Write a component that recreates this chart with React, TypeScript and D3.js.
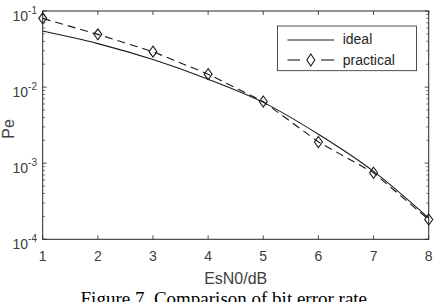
import React from "react";
import { scaleLinear, scaleLog, line, curveMonotoneX, curveLinear } from "d3";

// values
const esn0 = [1, 2, 3, 4, 5, 6, 7, 8];
const ideal = [0.0546, 0.0373, 0.023, 0.0127, 0.0063, 0.0024, 0.00078, 0.00019];
const practical = [0.08, 0.0493, 0.0292, 0.0148, 0.00646, 0.0019, 0.00075, 0.000182];
const xTicks = [1, 2, 3, 4, 5, 6, 7, 8];
const yExponents = [-1, -2, -3, -4];

const W = 436;
const H = 302;
const left = 42.7, right = 428.7, top = 11, bottom = 239.3;

export default function App() {
  const x = scaleLinear().domain([1, 8]).range([left, right]);
  const y = scaleLog().domain([1e-4, 1e-1]).range([bottom, top]);

  const idealLine = line<number>()
    .x((_, i) => x(esn0[i]))
    .y((d) => y(d))
    .curve(curveMonotoneX);
  const practicalLine = line<number>()
    .x((_, i) => x(esn0[i]))
    .y((d) => y(d))
    .curve(curveLinear);

  // minor log ticks 2..9 x 10^k
  const minor: number[] = [];
  for (let k = -4; k <= -2; k++) {
    for (let m = 2; m <= 9; m++) minor.push(m * Math.pow(10, k));
  }

  const diamond = (cx: number, cy: number, hw = 4, hh = 5.5) =>
    `M${cx},${cy - hh}L${cx + hw},${cy}L${cx},${cy + hh}L${cx - hw},${cy}Z`;

  const axisColor = "#262626";
  const textColor = "#404040";
  const sans = "'Liberation Sans', Arial, Helvetica, sans-serif";

  return (
    <div style={{ position: "fixed", left: 0, top: 0 }}>
      <svg width={W} height={H} style={{ display: "block", background: "#fff" }}>
        <rect x={0} y={0} width={W} height={H} fill="#fff" />

        {/* minor y ticks on both sides */}
        {minor.map((v, i) => (
          <g key={"m" + i} stroke={axisColor} strokeWidth={0.6}>
            <line x1={left} x2={left + 2.5} y1={y(v)} y2={y(v)} />
            <line x1={right} x2={right - 2.5} y1={y(v)} y2={y(v)} />
          </g>
        ))}
        {/* major y ticks */}
        {yExponents.map((e) => (
          <g key={"y" + e} stroke={axisColor} strokeWidth={0.8}>
            <line x1={left} x2={left + 4} y1={y(Math.pow(10, e))} y2={y(Math.pow(10, e))} />
            <line x1={right} x2={right - 4} y1={y(Math.pow(10, e))} y2={y(Math.pow(10, e))} />
          </g>
        ))}
        {/* x ticks top and bottom */}
        {xTicks.map((t) => (
          <g key={"x" + t} stroke={axisColor} strokeWidth={0.8}>
            <line x1={x(t)} x2={x(t)} y1={bottom} y2={bottom - 4} />
            <line x1={x(t)} x2={x(t)} y1={top} y2={top + 4} />
          </g>
        ))}

        {/* box */}
        <rect x={left} y={top} width={right - left} height={bottom - top}
          fill="none" stroke={axisColor} strokeWidth={1} />

        {/* curves */}
        <path d={idealLine(ideal) || ""} fill="none" stroke="#1a1a1a" strokeWidth={1.1} />
        <path d={practicalLine(practical) || ""} fill="none" stroke="#1a1a1a"
          strokeWidth={1.1} strokeDasharray="8,5" />
        {practical.map((v, i) => (
          <path key={"d" + i} d={diamond(x(esn0[i]), y(v))} fill="none"
            stroke="#1a1a1a" strokeWidth={1.1} />
        ))}

        {/* x tick labels */}
        {xTicks.map((t) => (
          <text key={"xl" + t} x={x(t)} y={261} textAnchor="middle"
            fontFamily={sans} fontSize={14} fill={textColor}>{t}</text>
        ))}
        {/* y tick labels */}
        {yExponents.map((e) => {
          const ty = y(Math.pow(10, e));
          return (
            <text key={"yl" + e} x={37} y={ty + 9.8} textAnchor="end"
              fontFamily={sans} fontSize={14} fill={textColor}>
              10<tspan fontSize={10} dy={-7}>{"-" + Math.abs(e)}</tspan>
            </text>
          );
        })}

        {/* axis labels */}
        <text x={(left + right) / 2} y={284} textAnchor="middle"
          fontFamily={sans} fontSize={16} fill={textColor}>EsN0/dB</text>
        <text transform={`translate(13.5,129) rotate(-90)`} textAnchor="middle"
          fontFamily={sans} fontSize={16} fill={textColor}>Pe</text>

        {/* legend */}
        <rect x={277.5} y={26} width={139} height={44.7} fill="#fff"
          stroke={axisColor} strokeWidth={0.8} />
        <line x1={287.5} x2={334.3} y1={40} y2={40} stroke="#1a1a1a" strokeWidth={1.1} />
        <text x={342.7} y={43.5} fontFamily={sans} fontSize={14} fill="#262626">ideal</text>
        <line x1={287.5} x2={300} y1={60} y2={60} stroke="#1a1a1a" strokeWidth={1.1} />
        <line x1={321} x2={334.3} y1={60} y2={60} stroke="#1a1a1a" strokeWidth={1.1} />
        <path d={diamond(310.8, 60, 4, 6)} fill="none" stroke="#1a1a1a" strokeWidth={1.1} />
        <text x={342.7} y={64.5} fontFamily={sans} fontSize={14} fill="#262626">practical</text>

        {/* caption */}
        <text x={223.8} y={305} textAnchor="middle"
          fontFamily="'Liberation Serif', 'Times New Roman', serif" fontSize={19}
          fill="#000">Figure 7. Comparison of bit error rate</text>
      </svg>
    </div>
  );
}
